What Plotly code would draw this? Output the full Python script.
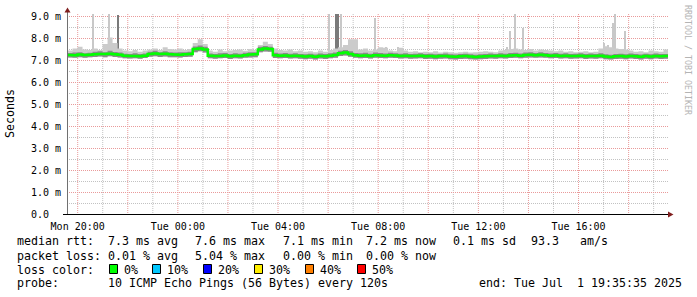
import plotly.graph_objects as go
import pandas as pd

# ---------------- data ----------------
start_time = "2025-06-30 19:35:35"
end_time = "2025-07-01 19:35:35"
step_minutes = 12

median_ms = [7.25, 7.24, 7.27, 7.25, 7.26, 7.28, 7.30, 7.29, 7.31, 7.28,
             7.26, 7.22, 7.20, 7.21, 7.19, 7.22, 7.30, 7.32, 7.29, 7.31, 7.28,
             7.27, 7.26, 7.28, 7.30, 7.52, 7.55, 7.50,
             7.22, 7.20, 7.21, 7.23, 7.19, 7.22, 7.21, 7.24, 7.27, 7.28,
             7.50, 7.54, 7.52, 7.24, 7.22, 7.23, 7.21, 7.22, 7.20,
             7.18, 7.20, 7.17, 7.21, 7.19, 7.22, 7.25, 7.33, 7.36, 7.30,
             7.24, 7.22, 7.23, 7.21, 7.24, 7.23,
             7.22, 7.24, 7.23, 7.21, 7.22, 7.20, 7.21, 7.22,
             7.19, 7.20, 7.18, 7.20, 7.21, 7.18, 7.17, 7.19, 7.20, 7.18, 7.16, 7.18,
             7.19, 7.21, 7.20, 7.22, 7.21, 7.23, 7.24, 7.22, 7.25, 7.26, 7.24, 7.26,
             7.24, 7.22, 7.23, 7.21, 7.22, 7.20, 7.21, 7.22, 7.19, 7.21, 7.20, 7.22,
             7.18, 7.16, 7.19, 7.20, 7.18, 7.21, 7.19, 7.17, 7.20, 7.18, 7.21, 7.19, 7.20]

smoke_lo_ms = [7.14, 7.12, 7.15, 7.13, 7.15, 7.16, 7.18, 7.15, 7.19, 7.16,
               7.14, 7.10, 7.09, 7.10, 7.08, 7.11, 7.17, 7.19, 7.16, 7.18, 7.15,
               7.15, 7.14, 7.16, 7.17, 7.38, 7.42, 7.36,
               7.10, 7.08, 7.10, 7.11, 7.07, 7.10, 7.09, 7.12, 7.14, 7.15,
               7.38, 7.41, 7.40, 7.11, 7.10, 7.11, 7.09, 7.10, 7.08,
               7.06, 7.08, 7.05, 7.09, 7.07, 7.10, 7.12, 7.20, 7.23, 7.17,
               7.12, 7.10, 7.11, 7.09, 7.12, 7.11,
               7.10, 7.12, 7.11, 7.09, 7.10, 7.08, 7.09, 7.10,
               7.07, 7.08, 7.06, 7.08, 7.09, 7.06, 7.05, 7.07, 7.08, 7.06, 7.04, 7.06,
               7.07, 7.09, 7.08, 7.10, 7.09, 7.11, 7.12, 7.10, 7.13, 7.14, 7.12, 7.14,
               7.12, 7.10, 7.11, 7.09, 7.10, 7.08, 7.09, 7.10, 7.07, 7.09, 7.08, 7.10,
               7.06, 7.04, 7.07, 7.08, 7.06, 7.09, 7.07, 7.05, 7.08, 7.06, 7.09, 7.07, 7.08]

smoke_hi_ms = [7.45, 7.55, 7.62, 7.50, 7.48, 7.55, 7.48, 7.75, 8.05, 7.80,
               7.55, 7.45, 7.42, 7.48, 7.40, 7.45, 7.50, 7.55, 7.48, 7.60, 7.52,
               7.50, 7.55, 7.48, 7.52, 7.80, 7.97, 7.75,
               7.45, 7.40, 7.50, 7.42, 7.45, 7.48, 7.50, 7.44, 7.52, 7.48,
               7.70, 7.85, 7.75, 7.55, 7.48, 7.45, 7.50, 7.42, 7.45,
               7.40, 7.42, 7.38, 7.45, 7.40, 7.48, 7.55, 7.60, 7.70, 7.97,
               7.97, 7.50, 7.55, 7.45, 7.50, 7.60,
               7.58, 7.45, 7.42, 7.58, 7.45, 7.40, 7.42, 7.38,
               7.40, 7.38, 7.42, 7.36, 7.40, 7.38, 7.35, 7.38, 7.40, 7.36, 7.38, 7.40,
               7.42, 7.40, 7.38, 7.45, 7.48, 7.52, 7.55, 7.50, 7.48, 7.52, 7.45, 7.50,
               7.48, 7.45, 7.42, 7.45, 7.40, 7.42, 7.38, 7.40, 7.42, 7.38, 7.40, 7.55,
               7.65, 7.60, 7.55, 7.52, 7.50, 7.45, 7.40, 7.42, 7.38, 7.45, 7.42, 7.40, 7.50]

dark_hi_ms = [7.34, 7.36, 7.38, 7.33, 7.35, 7.40, 7.42, 7.38, 7.44, 7.39,
              7.36, 7.31, 7.30, 7.33, 7.29, 7.32, 7.40, 7.44, 7.38, 7.42, 7.37,
              7.36, 7.38, 7.37, 7.40, 7.64, 7.68, 7.62,
              7.32, 7.30, 7.33, 7.34, 7.29, 7.33, 7.31, 7.35, 7.38, 7.38,
              7.62, 7.66, 7.63, 7.35, 7.32, 7.34, 7.31, 7.33, 7.30,
              7.28, 7.31, 7.27, 7.32, 7.29, 7.33, 7.36, 7.44, 7.48, 7.42,
              7.34, 7.33, 7.35, 7.31, 7.36, 7.34,
              7.32, 7.35, 7.33, 7.31, 7.33, 7.30, 7.31, 7.33,
              7.29, 7.31, 7.28, 7.30, 7.32, 7.28, 7.27, 7.29, 7.31, 7.28, 7.26, 7.28,
              7.29, 7.32, 7.30, 7.33, 7.31, 7.34, 7.35, 7.32, 7.36, 7.37, 7.34, 7.37,
              7.34, 7.32, 7.34, 7.31, 7.33, 7.30, 7.31, 7.33, 7.29, 7.32, 7.30, 7.33,
              7.28, 7.26, 7.30, 7.31, 7.28, 7.32, 7.29, 7.27, 7.31, 7.28, 7.32, 7.29, 7.30]

spike_light_times = ["2025-06-30 20:37", "2025-06-30 21:15", "2025-07-01 06:03",
                     "2025-07-01 06:32", "2025-07-01 07:52", "2025-07-01 08:18",
                     "2025-07-01 08:47", "2025-07-01 13:09", "2025-07-01 13:15",
                     "2025-07-01 13:28", "2025-07-01 13:47", "2025-07-01 17:02",
                     "2025-07-01 17:11", "2025-07-01 17:22", "2025-07-01 17:27",
                     "2025-07-01 17:52"]
spike_light_tops = [9.10, 9.10, 9.10, 9.10, 8.95, 7.60, 7.60, 7.60, 8.36,
                    9.10, 8.50, 7.80, 7.70, 8.70, 9.10, 8.35]
spike_dark_times = ["2025-06-30 21:37", "2025-07-01 06:19", "2025-07-01 06:23"]
spike_dark_tops = [9.05, 9.10, 9.10]
spike_base = 7.2

y_tick_vals = [0, 1, 2, 3, 4, 5, 6, 7, 8, 9]
y_tick_text = ["0.0\u00a0\u00a0", "1.0 m", "2.0 m", "3.0 m", "4.0 m", "5.0 m",
               "6.0 m", "7.0 m", "8.0 m", "9.0 m"]
y_minor_vals = [0.5, 1.5, 2.5, 3.5, 4.5, 5.5, 6.5, 7.5, 8.5]
x_tick_vals = ["2025-06-30 20:00", "2025-06-30 22:00", "2025-07-01 00:00",
               "2025-07-01 02:00", "2025-07-01 04:00", "2025-07-01 06:00",
               "2025-07-01 08:00", "2025-07-01 10:00", "2025-07-01 12:00",
               "2025-07-01 14:00", "2025-07-01 16:00", "2025-07-01 18:00"]
x_tick_text = ["Mon 20:00", "", "Tue 00:00", "", "Tue 04:00", "", "Tue 08:00", "",
               "Tue 12:00", "", "Tue 16:00", ""]
x_minor_vals = ["2025-06-30 21:00", "2025-06-30 23:00", "2025-07-01 01:00",
                "2025-07-01 03:00", "2025-07-01 05:00", "2025-07-01 07:00",
                "2025-07-01 09:00", "2025-07-01 11:00", "2025-07-01 13:00",
                "2025-07-01 15:00", "2025-07-01 17:00", "2025-07-01 19:00"]

rtt_label = "median rtt:"
rtt_stats = ["7.3 ms avg", "7.6 ms max", "7.1 ms min", "7.2 ms now", "0.1 ms sd", "93.3", "am/s"]
loss_label = "packet loss:"
loss_stats = ["0.01 % avg", "5.04 % max", "0.00 % min", "0.00 % now"]
loss_color_label = "loss color:"
loss_levels = ["0%", "10%", "20%", "30%", "40%", "50%"]
loss_colors = ["#00ff00", "#00c8ff", "#0000ff", "#ffee00", "#ff7f00", "#ff0000"]
probe_label = "probe:"
probe_text = "10 ICMP Echo Pings (56 Bytes) every 120s"
end_text = "end: Tue Jul\u00a0\u00a01 19:35:35 2025"

# ---------------- layout geometry (pixels) ----------------
W, H = 697, 297
PL, PR, PT, PB = 67, 668, 13, 215


def px(x):
    return (x - PL) / (PR - PL)


def py(y):
    return (PB - y) / (PB - PT)


t0 = pd.Timestamp(start_time)
t_end = pd.Timestamp(end_time)
times = [t0 + pd.Timedelta(minutes=step_minutes * i) for i in range(len(median_ms))] + [t_end]
# axis ranges nudged by half a pixel so grid lines fall on pixel centres
half_px_t = pd.Timedelta(hours=24) / (PR - PL) / 2
x_range = [t0 - half_px_t, t_end - half_px_t]
y_range = [-0.5 / 22.0, (PB - PT - 0.5) / 22.0]


def ext(v):
    return list(v) + [v[-1]]


fig = go.Figure()

# spikes (bars)
fig.add_trace(go.Bar(x=spike_light_times, y=[v - spike_base for v in spike_light_tops],
                     base=spike_base, width=290000, marker=dict(color="#c8c8c8", line=dict(width=0)),
                     hoverinfo="skip"))
fig.add_trace(go.Bar(x=spike_dark_times, y=[v - spike_base for v in spike_dark_tops],
                     base=spike_base, width=290000, marker=dict(color="#7a7a7a", line=dict(width=0)),
                     hoverinfo="skip"))

# light smoke
fig.add_trace(go.Scatter(x=times, y=ext(smoke_lo_ms), mode="lines", line=dict(width=0, shape="hv"),
                         hoverinfo="skip"))
fig.add_trace(go.Scatter(x=times, y=ext(smoke_hi_ms), mode="lines", line=dict(width=0, shape="hv"),
                         fill="tonexty", fillcolor="#cbcbcb", hoverinfo="skip"))
# dark smoke
fig.add_trace(go.Scatter(x=times, y=ext(smoke_lo_ms), mode="lines", line=dict(width=0, shape="hv"),
                         hoverinfo="skip"))
fig.add_trace(go.Scatter(x=times, y=ext(dark_hi_ms), mode="lines", line=dict(width=0, shape="hv"),
                         fill="tonexty", fillcolor="#8a8a8a", hoverinfo="skip"))
# median
fig.add_trace(go.Scatter(x=times, y=ext(median_ms), mode="lines",
                         line=dict(color="#00ff00", width=2.5, shape="hv"), hoverinfo="skip"))

major_grid = "#e99a9a"
minor_grid = "#c2c2c2"
dots = "1px,1px"
tick_font = dict(family="DejaVu Sans Mono", size=10, color="#000000")

fig.update_layout(
    xaxis=dict(type="date", range=x_range,
               tickmode="array", tickvals=x_tick_vals, ticktext=x_tick_text,
               showgrid=False, tickfont=tick_font, ticks="", showline=False, zeroline=False,
               ticklabelstandoff=4),
    yaxis=dict(range=y_range, tickmode="array", tickvals=y_tick_vals, ticktext=y_tick_text,
               showgrid=False, tickfont=tick_font, ticks="", showline=False, zeroline=False,
               ticklabelstandoff=5),
)

shapes = []
# grid drawn as dotted lines at the axis tick positions (below the data)
for v in x_minor_vals:
    shapes.append(dict(type="line", layer="below", xref="x", yref="paper", x0=v, x1=v, y0=0, y1=1,
                       line=dict(color=minor_grid, width=1, dash=dots)))
for v in x_tick_vals:
    shapes.append(dict(type="line", layer="below", xref="x", yref="paper", x0=v, x1=v, y0=0, y1=1,
                       line=dict(color=major_grid, width=1, dash=dots)))
for v in y_minor_vals:
    shapes.append(dict(type="line", layer="below", xref="paper", yref="y", x0=0, x1=1, y0=v, y1=v,
                       line=dict(color=minor_grid, width=1, dash=dots)))
for v in y_tick_vals[1:]:
    shapes.append(dict(type="line", layer="below", xref="paper", yref="y", x0=0, x1=1, y0=v, y1=v,
                       line=dict(color=major_grid, width=1, dash=dots)))

shapes += [
    # y axis line
    dict(type="line", xref="paper", yref="paper", x0=px(67.5), x1=px(67.5), y0=py(215), y1=py(11),
         line=dict(color="#707070", width=1)),
    # x axis line
    dict(type="line", xref="paper", yref="paper", x0=px(63), x1=px(669), y0=py(214.5), y1=py(214.5),
         line=dict(color="#000000", width=1)),
    # arrows
    dict(type="path", xref="paper", yref="paper",
         path=f"M {px(64.5)} {py(12.5)} L {px(70.5)} {py(12.5)} L {px(67.5)} {py(7.5)} Z",
         fillcolor="#801f1f", line=dict(width=0)),
    dict(type="path", xref="paper", yref="paper",
         path=f"M {px(668)} {py(211.5)} L {px(668)} {py(217.5)} L {px(673.5)} {py(214.5)} Z",
         fillcolor="#801f1f", line=dict(width=0)),
]

mono = "DejaVu Sans Mono"
fs = 11.63
annotations = []


def txt(x, y, s, size=fs, color="#000000"):
    annotations.append(dict(xref="paper", yref="paper", x=px(x), y=py(y), text=s,
                            showarrow=False, xanchor="left", yanchor="middle", borderpad=0,
                            font=dict(family=mono, size=size, color=color)))


row_y = [241.5, 255.5, 269.5, 283.0]
col_x = [107, 194, 282, 365, 452, 530, 579]

txt(16, row_y[0], rtt_label)
for xx, s in zip(col_x, rtt_stats):
    txt(xx, row_y[0], s)
txt(16, row_y[1], loss_label)
for xx, s in zip(col_x, loss_stats):
    txt(xx, row_y[1], s)
txt(16, row_y[2], loss_color_label)
box_x = [109, 152, 203, 254, 305, 357]
for bx, lvl, col in zip(box_x, loss_levels, loss_colors):
    shapes.append(dict(type="rect", xref="paper", yref="paper",
                       x0=px(bx + 0.5), x1=px(bx + 8.5), y0=py(273.5), y1=py(264.5),
                       fillcolor=col, line=dict(color="#000000", width=1)))
    txt(bx + 14, row_y[2], lvl)
txt(16, row_y[3], probe_label)
txt(107, row_y[3], probe_text)
txt(478, row_y[3], end_text)

# y axis title
annotations.append(dict(xref="paper", yref="paper", x=px(10), y=py(114), text="Seconds",
                        showarrow=False, textangle=-90, xanchor="center", yanchor="middle",
                        font=dict(family=mono, size=fs, color="#000000")))
# rrdtool watermark
annotations.append(dict(xref="paper", yref="paper", x=px(688), y=py(60), text="RRDTOOL / TOBI OETIKER",
                        showarrow=False, textangle=90, xanchor="center", yanchor="middle",
                        font=dict(family=mono, size=8.3, color="#b4b4b4")))

fig.update_layout(
    width=W, height=H, autosize=False,
    margin=dict(l=PL, r=W - PR, t=PT, b=H - PB, pad=0),
    paper_bgcolor="#ffffff", plot_bgcolor="#ffffff",
    showlegend=False, barmode="overlay", bargap=0,
    shapes=shapes, annotations=annotations,
)

fig.write_html("out.html")
